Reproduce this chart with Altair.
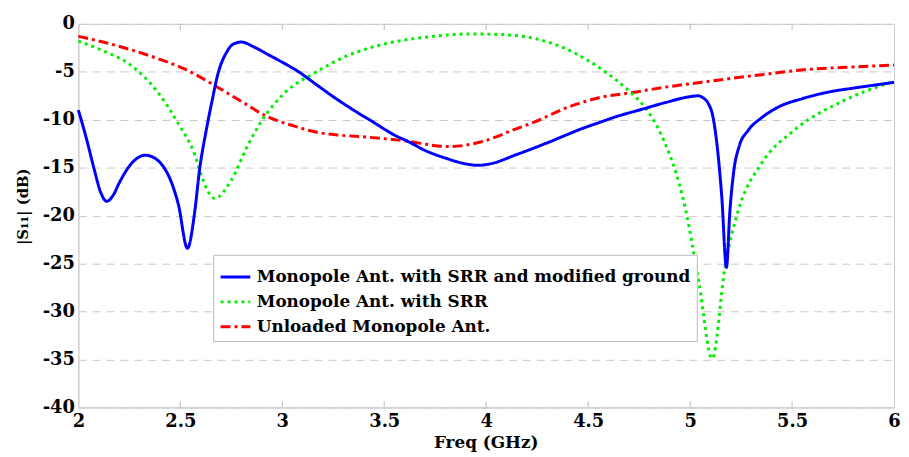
import altair as alt
import pandas as pd

series_names = [
    "Monopole Ant. with SRR and modified ground",
    "Monopole Ant. with SRR",
    "Unloaded Monopole Ant.",
]

blue_f = [2.00, 2.04, 2.078, 2.11, 2.139, 2.17, 2.20, 2.263, 2.328, 2.37, 2.41, 2.45, 2.49,
          2.535, 2.57, 2.594, 2.627, 2.655, 2.684, 2.73, 2.76, 2.80, 2.86, 2.93, 3.00, 3.08, 3.168,
          3.25, 3.35, 3.45, 3.55, 3.62, 3.70, 3.80, 3.90, 3.96, 4.02, 4.14, 4.30, 4.38, 4.46, 4.56,
          4.62, 4.77, 4.88, 5.01, 5.04, 5.06, 5.09, 5.11, 5.13, 5.155, 5.178, 5.195, 5.215, 5.24,
          5.285, 5.35, 5.43, 5.55, 5.67, 5.80, 5.90, 6.00]
blue_db = [-9.0, -12.0, -15.2, -17.6, -18.5, -17.9, -16.6, -14.5, -13.7, -13.95, -14.7, -16.2, -18.8,
           -23.4, -19.7, -15.25, -11.1, -8.1, -5.25, -2.85, -2.1, -1.9, -2.4, -3.2, -4.0, -5.0, -6.35,
           -7.6, -9.0, -10.3, -11.6, -12.3, -13.2, -14.0, -14.6, -14.75, -14.6, -13.7, -12.4, -11.7, -11.0, -10.25,
           -9.8, -8.87, -8.2, -7.56, -7.5, -7.67, -8.35, -9.5, -12.3, -18.0, -25.4, -19.5, -15.2, -12.8,
           -11.1, -9.8, -8.7, -7.8, -7.15, -6.7, -6.4, -6.1]

green_f = [2.00, 2.12, 2.25, 2.39, 2.49, 2.57, 2.61, 2.668, 2.75, 2.83, 2.89, 3.007, 3.168, 3.30,
           3.49, 3.70, 3.93, 4.10, 4.22, 4.38, 4.49, 4.59, 4.70, 4.785, 4.857, 4.978, 5.043, 5.108,
           5.172, 5.237, 5.35, 5.51, 5.754, 6.00]
green_db = [-1.8, -2.8, -4.2, -7.15, -10.4, -13.6, -16.2, -18.2, -16.3, -12.7, -10.4, -7.3, -5.0, -3.5,
            -2.15, -1.4, -1.05, -1.15, -1.45, -2.5, -3.7, -5.1, -7.0, -8.9, -11.5, -19.4, -26.95, -34.9,
            -25.2, -19.4, -14.55, -11.1, -8.0, -6.0]

red_f = [2.00, 2.14, 2.28, 2.40, 2.52, 2.67, 2.80, 2.93, 3.05, 3.168, 3.28, 3.41, 3.60, 3.815,
         3.977, 4.14, 4.235, 4.40, 4.56, 4.72, 4.88, 5.108, 5.35, 5.59, 5.80, 6.00]
red_db = [-1.3, -2.0, -2.85, -3.7, -4.7, -6.45, -8.1, -9.7, -10.6, -11.3, -11.6, -11.8, -12.2, -12.8,
          -12.3, -11.0, -10.25, -8.7, -7.67, -7.15, -6.6, -5.95, -5.3, -4.73, -4.5, -4.3]

x_ticks = [2, 2.5, 3, 3.5, 4, 4.5, 5, 5.5, 6]
y_ticks = [0, -5, -10, -15, -20, -25, -30, -35, -40]
inner_ticks = [2.5, 3, 3.5, 4, 4.5, 5, 5.5]

rows = []
for name, fs, ds in [(series_names[2], red_f, red_db),
                     (series_names[1], green_f, green_db),
                     (series_names[0], blue_f, blue_db)]:
    for i, (f, d) in enumerate(zip(fs, ds)):
        rows.append({"series": name, "freq": f, "s11": d, "order": i})
df = pd.DataFrame(rows)
tick_df = pd.DataFrame({"t": inner_ticks})

FONT = "DejaVu Serif"
W, H = 823, 387

x_scale = alt.Scale(domain=[2, 6], nice=False, zero=False)
y_scale = alt.Scale(domain=[-40, 0], nice=False, zero=False)

lines = alt.Chart(df).mark_line(strokeWidth=3, interpolate="monotone").encode(
    x=alt.X("freq:Q", scale=x_scale,
            axis=alt.Axis(values=x_ticks, title="Freq (GHz)", grid=False, ticks=False,
                          labelExpr="format(datum.value, '~g')",
                          labelFont=FONT, labelFontWeight="bold", labelFontSize=18,
                          labelColor="black", labelPadding=5, labelFlush=False,
                          labelOverlap=False, domainColor="#cccccc",
                          titleFont=FONT, titleFontWeight="bold", titleFontSize=17,
                          titleColor="black", titleX=411, titleY=35,
                          titleBaseline="middle", titleAlign="center")),
    y=alt.Y("s11:Q", scale=y_scale,
            axis=alt.Axis(values=y_ticks, title="|S₁₁| (dB)", grid=True,
                          gridDash=[8, 6], gridColor="#c8c8c8", gridWidth=1,
                          labelExpr="datum.value < 0 ? '-' + format(-datum.value, '~g') : '0'",
                          ticks=False, labelFont=FONT, labelFontWeight="bold",
                          labelFontSize=18, labelColor="black", labelPadding=4,
                          labelFlush=False, labelOverlap=False, domainColor="#cccccc",
                          titleFont=FONT, titleFontWeight="bold", titleFontSize=15,
                          titleColor="black", titleX=-56, titleY=184, titleAngle=270,
                          titleBaseline="middle", titleAlign="center")),
    color=alt.Color("series:N",
                    scale=alt.Scale(domain=series_names, range=["#0000ff", "#00ee00", "#ff0000"]),
                    legend=alt.Legend(title=None)),
    strokeDash=alt.StrokeDash("series:N",
                              scale=alt.Scale(domain=series_names,
                                              range=[[1, 0], [3, 4], [10, 4, 3, 4]]),
                              legend=alt.Legend(title=None)),
    order="order:Q",
)

top_ticks = alt.Chart(tick_df).mark_rule(color="#bbbbbb", strokeWidth=1).encode(
    x=alt.X("t:Q", scale=x_scale), y=alt.value(0), y2=alt.value(6))
bottom_ticks = alt.Chart(tick_df).mark_rule(color="#bbbbbb", strokeWidth=1).encode(
    x=alt.X("t:Q", scale=x_scale), y=alt.value(H - 6), y2=alt.value(H))

chart = alt.layer(top_ticks, bottom_ticks, lines).properties(
    width=W, height=H,
    padding={"left": 71, "top": 14, "right": 7, "bottom": 45},
    autosize=alt.AutoSizeParams(type="none"),
).configure_view(stroke="#cccccc", strokeWidth=1).configure_legend(
    orient="none", legendX=136, legendY=233,
    fillColor="white", strokeColor="#bbbbbb", padding=6,
    symbolType="stroke", symbolSize=900, symbolStrokeWidth=3,
    labelFont=FONT, labelFontWeight="bold", labelFontSize=17, labelColor="black",
    labelLimit=0, labelOffset=5, rowPadding=0,
)

chart.save("out.html", embed_options={"renderer": "svg", "actions": False})
